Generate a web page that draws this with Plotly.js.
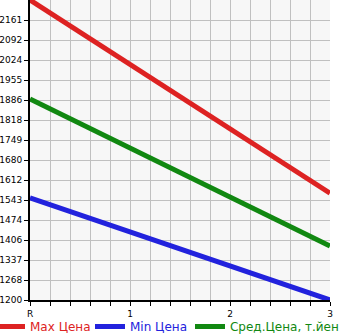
<!DOCTYPE html>
<html>
<head>
<meta charset="utf-8">
<script src="https://cdn.plot.ly/plotly-3.0.1.min.js"></script>
<style>html,body{margin:0;padding:0;background:#fff;overflow:hidden;}#wrap{width:345px;height:335px;overflow:hidden;}#chart{width:500px;height:345px;}</style>
</head>
<body>
<div id="wrap"><div id="chart"></div></div>
<script>
var xCategories = ['R', '1', '2', '3'];
var xPositions = [0, 1, 2, 3];
var maxPrice = [2230, 2008, 1787, 1567];
var minPrice = [1551, 1434, 1317, 1200];
var avgPrice = [1890, 1722, 1553, 1385];
var yTickLabels = ['1200','1268','1337','1406','1474','1543','1612','1680','1749','1818','1886','1955','2024','2092','2161'];

var traces = [
  {x: xPositions, y: maxPrice, mode: 'lines', name: '<span style="color:#dd2222">Max Цена</span>', line: {color: '#dd2222', width: 5}, legend: 'legend'},
  {x: xPositions, y: minPrice, mode: 'lines', name: '<span style="color:#2222dd">Min Цена</span>', line: {color: '#2222dd', width: 5}, legend: 'legend2'},
  {x: xPositions, y: avgPrice, mode: 'lines', name: '<span style="color:#118811">Сред.Цена, т.йен</span>', line: {color: '#118811', width: 5}, legend: 'legend3'}
];

function legendAt(xp) {
  return {orientation: 'h', x: xp, xanchor: 'left', y: -0.04, yanchor: 'top',
          font: {size: 12, family: 'DejaVu Sans'}, itemwidth: 30,
          bgcolor: 'rgba(0,0,0,0)', borderwidth: 0};
}

var layout = {
  width: 500, height: 345,
  margin: {l: 30, r: 170, t: 0, b: 45, autoexpand: false},
  paper_bgcolor: '#ffffff',
  plot_bgcolor: '#f7f7f7',
  font: {family: 'DejaVu Sans', size: 9, color: '#000'},
  showlegend: true,
  legend: legendAt(-0.1333),
  legend2: legendAt(0.2),
  legend3: legendAt(0.5333),
  xaxis: {
    range: [0, 3], tickvals: xPositions, ticktext: xCategories,
    showgrid: true, gridcolor: '#c0c0c0', gridwidth: 1,
    ticks: 'outside', ticklen: 4, tickcolor: '#000',
    showline: true, linecolor: '#000', linewidth: 2,
    zeroline: false,
    minor: {dtick: 0.2, showgrid: true, gridcolor: '#c0c0c0', gridwidth: 1, ticks: 'outside', ticklen: 4, tickcolor: '#000'},
    tickfont: {size: 9}
  },
  yaxis: {
    range: [1200, 2230], tickvals: yTickLabels.map(Number), ticktext: yTickLabels,
    showgrid: true, gridcolor: '#c0c0c0', gridwidth: 1,
    ticks: 'outside', ticklen: 4, tickcolor: '#000',
    showline: true, linecolor: '#000', linewidth: 2,
    zeroline: false,
    tickfont: {size: 9}
  }
};

Plotly.newPlot('chart', traces, layout, {displayModeBar: false, staticPlot: true});
</script>
</body>
</html>
